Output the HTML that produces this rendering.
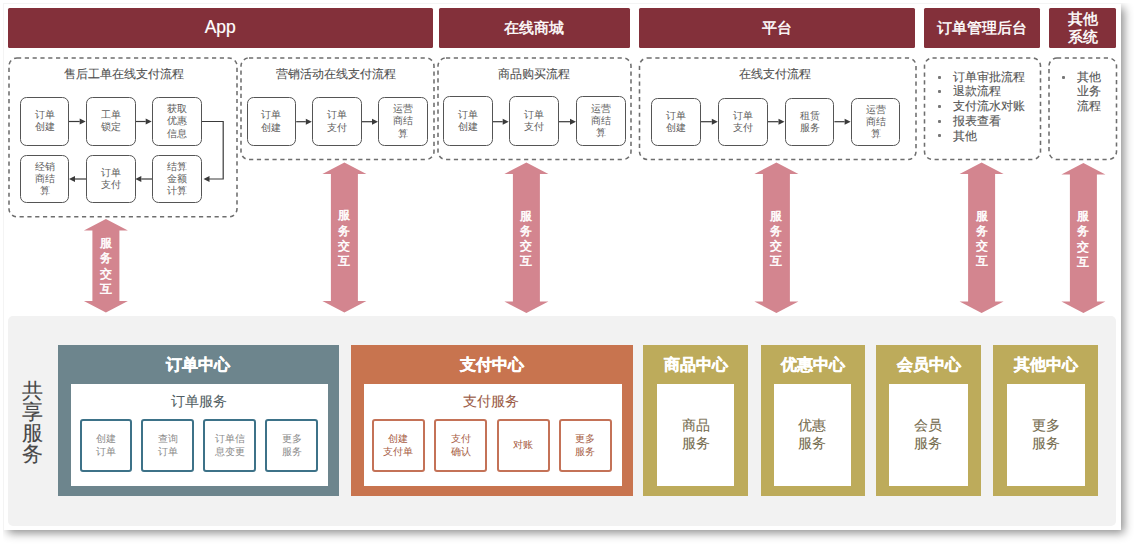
<!DOCTYPE html><html><head><meta charset="utf-8"><style>
*{margin:0;padding:0;box-sizing:border-box}
html,body{width:1134px;height:544px;overflow:hidden;background:#fff;font-family:"Liberation Sans",sans-serif}
#w{position:absolute;left:0;top:0;width:1134px;height:544px}
.s{-webkit-text-stroke:0.08px currentColor}
.a{position:absolute}
.c{position:absolute;display:flex;align-items:center;justify-content:center;text-align:center;flex-direction:column}
.hb{background:#83303a;color:#fff;font-size:15px;line-height:17.8px;border-radius:1.5px;font-weight:400;-webkit-text-stroke:0.45px #fff}
.pb{border:1.4px solid #555555;border-radius:6.5px;background:#fff;color:#5c5c5c;font-size:10px;line-height:12.2px}
.lst{-webkit-text-stroke:0.12px currentColor;color:#555;font-size:12px;line-height:14.7px}
</style></head><body><div id="w">
<div class="a" style="left:3px;top:3px;width:1117.5px;height:527px;background:#fff;box-shadow:4px 4px 9px -1px rgba(0,0,0,.45);border-top:1px solid #f4f4f4;border-left:1px solid #f4f4f4"></div>
<div class="a" style="left:0;top:0;width:1134px;height:3px;background:#fff"></div><div class="a" style="left:0;top:0;width:3px;height:544px;background:#fff"></div>
<div class="c hb" style="left:8.0px;top:8.4px;width:424.5px;height:39.2px;font-size:17.5px;-webkit-text-stroke:0.2px #fff">App</div>
<div class="c hb" style="left:438.5px;top:8.4px;width:191.7px;height:39.2px;font-size:15.0px;">在线商城</div>
<div class="c hb" style="left:639.0px;top:8.4px;width:275.7px;height:39.2px;font-size:15.0px;">平台</div>
<div class="c hb" style="left:924.0px;top:8.4px;width:115.5px;height:39.2px;font-size:15.0px;">订单管理后台</div>
<div class="c hb" style="left:1049.0px;top:8.4px;width:67.0px;height:39.2px;font-size:15.0px;">其他<br>系统</div>
<svg class="a" style="left:0;top:0" width="1134" height="544" viewBox="0 0 1134 544"><rect x="9.0" y="58.0" width="228.0" height="158.8" rx="8" ry="8" fill="none" stroke="#6e6e6e" stroke-width="1.55" stroke-dasharray="4.2 3.6"/><rect x="241.0" y="58.0" width="193.0" height="101.5" rx="8" ry="8" fill="none" stroke="#6e6e6e" stroke-width="1.55" stroke-dasharray="4.2 3.6"/><rect x="438.0" y="58.0" width="193.0" height="101.5" rx="8" ry="8" fill="none" stroke="#6e6e6e" stroke-width="1.55" stroke-dasharray="4.2 3.6"/><rect x="639.5" y="58.0" width="276.5" height="101.5" rx="8" ry="8" fill="none" stroke="#6e6e6e" stroke-width="1.55" stroke-dasharray="4.2 3.6"/><rect x="924.5" y="58.0" width="116.0" height="101.5" rx="8" ry="8" fill="none" stroke="#6e6e6e" stroke-width="1.55" stroke-dasharray="4.2 3.6"/><rect x="1049.0" y="58.0" width="67.5" height="101.5" rx="8" ry="8" fill="none" stroke="#6e6e6e" stroke-width="1.55" stroke-dasharray="4.2 3.6"/><path d="M105.9 219.0 L127.9 230.5 L119.4 230.5 L119.4 301.0 L127.9 301.0 L105.9 312.5 L83.9 301.0 L92.4 301.0 L92.4 230.5 L83.9 230.5 Z" fill="#d3858f"/><path d="M344.4 162.5 L366.4 174.0 L357.9 174.0 L357.9 301.0 L366.4 301.0 L344.4 312.5 L322.4 301.0 L330.9 301.0 L330.9 174.0 L322.4 174.0 Z" fill="#d3858f"/><path d="M526.4 162.5 L548.4 174.0 L539.9 174.0 L539.9 301.5 L548.4 301.5 L526.4 313.0 L504.4 301.5 L512.9 301.5 L512.9 174.0 L504.4 174.0 Z" fill="#d3858f"/><path d="M776.4 162.5 L798.4 174.0 L789.9 174.0 L789.9 301.5 L798.4 301.5 L776.4 313.0 L754.4 301.5 L762.9 301.5 L762.9 174.0 L754.4 174.0 Z" fill="#d3858f"/><path d="M981.6 162.5 L1003.6 174.0 L995.1 174.0 L995.1 301.5 L1003.6 301.5 L981.6 313.0 L959.6 301.5 L968.1 301.5 L968.1 174.0 L959.6 174.0 Z" fill="#d3858f"/><path d="M1083.4 163.0 L1105.4 174.5 L1096.9 174.5 L1096.9 301.5 L1105.4 301.5 L1083.4 313.0 L1061.4 301.5 L1069.9 301.5 L1069.9 174.5 L1061.4 174.5 Z" fill="#d3858f"/><line x1="69.0" y1="121.5" x2="79.7" y2="121.5" stroke="#3a3a3a" stroke-width="1.2"/><path d="M85.7 121.5 L79.7 118.5 L79.7 124.5 Z" fill="#3a3a3a"/><line x1="135.5" y1="121.5" x2="145.7" y2="121.5" stroke="#3a3a3a" stroke-width="1.2"/><path d="M151.7 121.5 L145.7 118.5 L145.7 124.5 Z" fill="#3a3a3a"/><line x1="152.0" y1="179.0" x2="141.3" y2="179.0" stroke="#3a3a3a" stroke-width="1.2"/><path d="M135.3 179.0 L141.3 176.0 L141.3 182.0 Z" fill="#3a3a3a"/><line x1="86.0" y1="179.0" x2="75.0" y2="179.0" stroke="#3a3a3a" stroke-width="1.2"/><path d="M69.0 179.0 L75.0 176.0 L75.0 182.0 Z" fill="#3a3a3a"/><polyline points="201.8,121.5 223.2,121.5 223.2,179 207,179" fill="none" stroke="#3a3a3a" stroke-width="1.2"/><path d="M203.5 179 L209.5 176 L209.5 182 Z" fill="#3a3a3a"/><line x1="296.2" y1="121.7" x2="305.8" y2="121.7" stroke="#3a3a3a" stroke-width="1.2"/><path d="M311.8 121.7 L305.8 118.7 L305.8 124.7 Z" fill="#3a3a3a"/><line x1="361.7" y1="121.7" x2="372.0" y2="121.7" stroke="#3a3a3a" stroke-width="1.2"/><path d="M378.0 121.7 L372.0 118.7 L372.0 124.7 Z" fill="#3a3a3a"/><line x1="492.8" y1="121.7" x2="502.7" y2="121.7" stroke="#3a3a3a" stroke-width="1.2"/><path d="M508.7 121.7 L502.7 118.7 L502.7 124.7 Z" fill="#3a3a3a"/><line x1="558.6" y1="121.7" x2="570.0" y2="121.7" stroke="#3a3a3a" stroke-width="1.2"/><path d="M576.0 121.7 L570.0 118.7 L570.0 124.7 Z" fill="#3a3a3a"/><line x1="700.8" y1="121.7" x2="711.8" y2="121.7" stroke="#3a3a3a" stroke-width="1.2"/><path d="M717.8 121.7 L711.8 118.7 L711.8 124.7 Z" fill="#3a3a3a"/><line x1="767.7" y1="121.7" x2="778.5" y2="121.7" stroke="#3a3a3a" stroke-width="1.2"/><path d="M784.5 121.7 L778.5 118.7 L778.5 124.7 Z" fill="#3a3a3a"/><line x1="834.4" y1="121.7" x2="844.6" y2="121.7" stroke="#3a3a3a" stroke-width="1.2"/><path d="M850.6 121.7 L844.6 118.7 L844.6 124.7 Z" fill="#3a3a3a"/></svg>
<div class="c s" style="left:24.0px;top:44.5px;width:200.0px;height:60.0px;font-size:12.0px;line-height:14.4px;color:#4e4e4e;font-weight:normal;">售后工单在线支付流程</div>
<div class="c s" style="left:236.3px;top:44.5px;width:200.0px;height:60.0px;font-size:12.0px;line-height:14.4px;color:#4e4e4e;font-weight:normal;">营销活动在线支付流程</div>
<div class="c s" style="left:433.5px;top:44.5px;width:200.0px;height:60.0px;font-size:12.0px;line-height:14.4px;color:#4e4e4e;font-weight:normal;">商品购买流程</div>
<div class="c s" style="left:675.3px;top:44.5px;width:200.0px;height:60.0px;font-size:12.0px;line-height:14.4px;color:#4e4e4e;font-weight:normal;">在线支付流程</div>
<div class="c pb" style="left:19.8px;top:97.0px;width:49.6px;height:48.8px">订单<br>创建</div>
<div class="c pb" style="left:86.0px;top:97.0px;width:49.6px;height:48.8px">工单<br>锁定</div>
<div class="c pb" style="left:152.0px;top:97.0px;width:49.6px;height:48.8px">获取<br>优惠<br>信息</div>
<div class="c pb" style="left:19.8px;top:154.6px;width:49.6px;height:48.8px">经销<br>商结<br>算</div>
<div class="c pb" style="left:86.0px;top:154.6px;width:49.6px;height:48.8px">订单<br>支付</div>
<div class="c pb" style="left:152.0px;top:154.6px;width:49.6px;height:48.8px">结算<br>金额<br>计算</div>
<div class="c pb" style="left:246.6px;top:97.2px;width:49.6px;height:48.8px">订单<br>创建</div>
<div class="c pb" style="left:312.1px;top:97.2px;width:49.6px;height:48.8px">订单<br>支付</div>
<div class="c pb" style="left:378.3px;top:97.2px;width:49.6px;height:48.8px">运营<br>商结<br>算</div>
<div class="c pb" style="left:443.2px;top:96.2px;width:49.6px;height:49.4px">订单<br>创建</div>
<div class="c pb" style="left:509.0px;top:96.2px;width:49.6px;height:49.4px">订单<br>支付</div>
<div class="c pb" style="left:576.3px;top:96.2px;width:49.6px;height:49.4px">运营<br>商结<br>算</div>
<div class="c pb" style="left:651.2px;top:97.6px;width:49.6px;height:48.8px">订单<br>创建</div>
<div class="c pb" style="left:718.1px;top:97.6px;width:49.6px;height:48.8px">订单<br>支付</div>
<div class="c pb" style="left:784.8px;top:97.6px;width:49.6px;height:48.8px">租赁<br>服务</div>
<div class="c pb" style="left:850.9px;top:97.6px;width:49.6px;height:48.8px">运营<br>商结<br>算</div>
<div class="a lst" style="left:953.3px;top:69.7px;white-space:nowrap">订单审批流程</div>
<div class="a" style="left:938px;top:76px;width:3px;height:3px;border-radius:1px;background:#777"></div>
<div class="a lst" style="left:953.3px;top:84.4px;white-space:nowrap">退款流程</div>
<div class="a" style="left:938px;top:90px;width:3px;height:3px;border-radius:1px;background:#777"></div>
<div class="a lst" style="left:953.3px;top:99.1px;white-space:nowrap">支付流水对账</div>
<div class="a" style="left:938px;top:105px;width:3px;height:3px;border-radius:1px;background:#777"></div>
<div class="a lst" style="left:953.3px;top:113.8px;white-space:nowrap">报表查看</div>
<div class="a" style="left:938px;top:120px;width:3px;height:3px;border-radius:1px;background:#777"></div>
<div class="a lst" style="left:953.3px;top:128.5px;white-space:nowrap">其他</div>
<div class="a" style="left:938px;top:134px;width:3px;height:3px;border-radius:1px;background:#777"></div>
<div class="a" style="left:1062px;top:76px;width:3px;height:3px;border-radius:1px;background:#777"></div>
<div class="a lst" style="left:1077.4px;top:69.7px;white-space:nowrap">其他</div>
<div class="a lst" style="left:1077.4px;top:84.4px;white-space:nowrap">业务</div>
<div class="a lst" style="left:1077.4px;top:99.1px;white-space:nowrap">流程</div>
<div class="c" style="left:95.9px;top:231.6px;width:20px;height:70px;color:#fff;font-size:12px;line-height:15.3px;font-weight:normal;-webkit-text-stroke:0.5px #fff">服<br>务<br>交<br>互</div>
<div class="c" style="left:334.4px;top:204.0px;width:20px;height:70px;color:#fff;font-size:12px;line-height:15.3px;font-weight:normal;-webkit-text-stroke:0.5px #fff">服<br>务<br>交<br>互</div>
<div class="c" style="left:516.4px;top:204.2px;width:20px;height:70px;color:#fff;font-size:12px;line-height:15.3px;font-weight:normal;-webkit-text-stroke:0.5px #fff">服<br>务<br>交<br>互</div>
<div class="c" style="left:766.4px;top:204.2px;width:20px;height:70px;color:#fff;font-size:12px;line-height:15.3px;font-weight:normal;-webkit-text-stroke:0.5px #fff">服<br>务<br>交<br>互</div>
<div class="c" style="left:971.6px;top:204.2px;width:20px;height:70px;color:#fff;font-size:12px;line-height:15.3px;font-weight:normal;-webkit-text-stroke:0.5px #fff">服<br>务<br>交<br>互</div>
<div class="c" style="left:1073.4px;top:204.5px;width:20px;height:70px;color:#fff;font-size:12px;line-height:15.3px;font-weight:normal;-webkit-text-stroke:0.5px #fff">服<br>务<br>交<br>互</div>
<div class="a" style="left:8px;top:316px;width:1108px;height:209.5px;background:#f2f2f2;border-radius:5px"></div>
<div class="c" style="left:16px;top:376px;width:32px;height:92px;font-size:21px;line-height:21px;color:#484848;-webkit-text-stroke:0.1px #484848">共<br>享<br>服<br>务</div>
<div class="a" style="left:58.0px;top:344.5px;width:281.2px;height:151px;background:#6d858d"></div>
<div class="a" style="left:71.4px;top:383.5px;width:257.0px;height:102.7px;background:#fff"></div>
<div class="c" style="left:57.9px;top:334.3px;width:281.2px;height:60.0px;font-size:16.0px;line-height:19.2px;color:#fff;font-weight:bold;-webkit-text-stroke:0.35px #fff">订单中心</div>
<div class="c s" style="left:98.6px;top:371.6px;width:200.0px;height:60.0px;font-size:14.0px;line-height:16.8px;color:#515e63;font-weight:normal;">订单服务</div>
<div class="c" style="left:79.5px;top:419.3px;width:52.8px;height:52.6px;border:2px solid #3d7288;border-radius:3px;color:#8a8a8a;font-size:10px;line-height:12.3px">创建<br>订单</div>
<div class="c" style="left:141.4px;top:419.3px;width:52.8px;height:52.6px;border:2px solid #3d7288;border-radius:3px;color:#8a8a8a;font-size:10px;line-height:12.3px">查询<br>订单</div>
<div class="c" style="left:203.3px;top:419.3px;width:52.8px;height:52.6px;border:2px solid #3d7288;border-radius:3px;color:#8a8a8a;font-size:10px;line-height:12.3px">订单信<br>息变更</div>
<div class="c" style="left:265.3px;top:419.3px;width:52.8px;height:52.6px;border:2px solid #3d7288;border-radius:3px;color:#8a8a8a;font-size:10px;line-height:12.3px">更多<br>服务</div>
<div class="a" style="left:351.2px;top:344.5px;width:281.6px;height:151px;background:#c8744f"></div>
<div class="a" style="left:364.0px;top:383.5px;width:257.9px;height:102.7px;background:#fff"></div>
<div class="c" style="left:351.2px;top:334.3px;width:281.6px;height:60.0px;font-size:16.0px;line-height:19.2px;color:#fff;font-weight:bold;-webkit-text-stroke:0.35px #fff">支付中心</div>
<div class="c s" style="left:391.1px;top:371.6px;width:200.0px;height:60.0px;font-size:14.0px;line-height:16.8px;color:#9a5a45;font-weight:normal;">支付服务</div>
<div class="c" style="left:371.9px;top:419.3px;width:53px;height:52.6px;border:2px solid #c47257;border-radius:3px;color:#a65c44;font-size:10px;line-height:12.3px">创建<br>支付单</div>
<div class="c" style="left:434.2px;top:419.3px;width:53px;height:52.6px;border:2px solid #c47257;border-radius:3px;color:#a65c44;font-size:10px;line-height:12.3px">支付<br>确认</div>
<div class="c" style="left:496.5px;top:419.3px;width:53px;height:52.6px;border:2px solid #c47257;border-radius:3px;color:#a65c44;font-size:10px;line-height:12.3px">对账</div>
<div class="c" style="left:558.8px;top:419.3px;width:53px;height:52.6px;border:2px solid #c47257;border-radius:3px;color:#a65c44;font-size:10px;line-height:12.3px">更多<br>服务</div>
<div class="a" style="left:643.4px;top:344.5px;width:105.1px;height:151px;background:#bdab5b"></div>
<div class="a" style="left:656.8px;top:383.5px;width:77.6px;height:102.7px;background:#fff"></div>
<div class="c" style="left:643.4px;top:334.3px;width:105.1px;height:60.0px;font-size:16.0px;line-height:19.2px;color:#fff;font-weight:bold;-webkit-text-stroke:0.35px #fff">商品中心</div>
<div class="c s" style="left:595.6px;top:404.8px;width:200.0px;height:60.0px;font-size:14.0px;line-height:17.5px;color:#756b4e;font-weight:normal;">商品<br>服务</div>
<div class="a" style="left:760.9px;top:344.5px;width:104.1px;height:151px;background:#bdab5b"></div>
<div class="a" style="left:773.9px;top:383.5px;width:76.7px;height:102.7px;background:#fff"></div>
<div class="c" style="left:760.9px;top:334.3px;width:104.1px;height:60.0px;font-size:16.0px;line-height:19.2px;color:#fff;font-weight:bold;-webkit-text-stroke:0.35px #fff">优惠中心</div>
<div class="c s" style="left:712.2px;top:404.8px;width:200.0px;height:60.0px;font-size:14.0px;line-height:17.5px;color:#756b4e;font-weight:normal;">优惠<br>服务</div>
<div class="a" style="left:876.2px;top:344.5px;width:105.2px;height:151px;background:#bdab5b"></div>
<div class="a" style="left:889.0px;top:383.5px;width:78.5px;height:102.7px;background:#fff"></div>
<div class="c" style="left:876.2px;top:334.3px;width:105.2px;height:60.0px;font-size:16.0px;line-height:19.2px;color:#fff;font-weight:bold;-webkit-text-stroke:0.35px #fff">会员中心</div>
<div class="c s" style="left:828.2px;top:404.8px;width:200.0px;height:60.0px;font-size:14.0px;line-height:17.5px;color:#756b4e;font-weight:normal;">会员<br>服务</div>
<div class="a" style="left:993.1px;top:344.5px;width:105.0px;height:151px;background:#bdab5b"></div>
<div class="a" style="left:1006.5px;top:383.5px;width:78.1px;height:102.7px;background:#fff"></div>
<div class="c" style="left:993.1px;top:334.3px;width:105.0px;height:60.0px;font-size:16.0px;line-height:19.2px;color:#fff;font-weight:bold;-webkit-text-stroke:0.35px #fff">其他中心</div>
<div class="c s" style="left:945.5px;top:404.8px;width:200.0px;height:60.0px;font-size:14.0px;line-height:17.5px;color:#756b4e;font-weight:normal;">更多<br>服务</div>
</div></body></html>
